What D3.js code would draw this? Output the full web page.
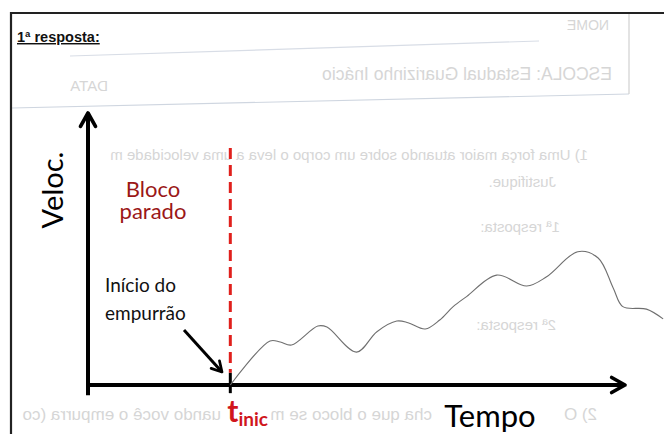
<!DOCTYPE html>
<html lang="pt">
  <head>
    <meta charset="UTF-8" />
    <title>Veloc. x Tempo</title>
    <script src="https://d3js.org/d3.v7.min.js"></script>
    <style>
      body { margin: 0; background: #fff; }
      svg { display: block; }
      .lbl { font-family: Lato, "Open Sans", sans-serif; }
      .ghost { font-family: "Liberation Sans", Arial, sans-serif; fill: #d6d6d6; }
    </style>
  </head>
  <body>
    <svg width="664" height="434"></svg>
    <script>
      // time (arbitrary units) and velocity (arbitrary units)
      const tInic = 26.5;
      const tempo = [26.5, 33.9, 35.8, 37.9, 42.8, 44.5, 50.0, 53.8, 57.5, 59.6, 62.8, 65.5,
                     68.0, 70.5, 76.1, 81.7, 85.4, 91.2, 95.0, 97.8, 99.6, 104.0, 107.1];
      const veloc = [0, 16.2, 15.8, 14.7, 21.7, 21.3, 12.1, 19.6, 23.5, 22.9, 20.6, 23.9,
                     28.8, 32.5, 40.4, 36.4, 39.8, 49.0, 46.7, 35.7, 28.8, 27.9, 24.3];
      const labelsBloco = ["Bloco", "parado"];
      const labelsInicio = ["Início do", "empurrão"];

      const svg = d3.select("svg");

      const x = d3.scaleLinear().domain([0, 100]).range([88, 625]);
      const y = d3.scaleLinear().domain([0, 100]).range([385, 113]);

      // scan bleed-through from the back of the page (mirrored, faint)
      const ghost = svg.append("g");
      const ghostTexts = [
        { s: "NOME", x: 609, y: 30, f: 14 },
        { s: "ESCOLA: Estadual Guarizinho Inácio", x: 612, y: 80, f: 17.5 },
        { s: "DATA", x: 108, y: 91, f: 15 },
        { s: "1) Uma força maior atuando sobre um corpo o leva a uma velocidade m", x: 588, y: 160, f: 15 },
        { s: "Justifique.", x: 556, y: 187, f: 15 },
        { s: "1ª resposta:", x: 560, y: 232, f: 15 },
        { s: "2ª resposta:", x: 556, y: 330, f: 15 },
        // the last line is hidden behind the white boxes of "Tempo" and "t inic"
        { s: "2) O", x: 597, y: 420, f: 17 },
        { s: "cha que o bloco se m", x: 432, y: 420, f: 17 },
        { s: "uando você o empurra (co", x: 221, y: 420, f: 17 }
      ];
      ghost.selectAll("text")
        .data(ghostTexts)
        .enter()
        .append("text")
        .attr("class", "ghost")
        .attr("transform", (d) => `translate(${d.x},${d.y}) scale(-1,1)`)
        .attr("font-size", (d) => d.f)
        .text((d) => d.s);
      ghost.append("line").attr("x1", 70).attr("y1", 56).attr("x2", 539).attr("y2", 41)
        .attr("stroke", "#d8dde6").attr("stroke-width", 1.2);
      ghost.append("line").attr("x1", 12).attr("y1", 108).attr("x2", 629).attr("y2", 94)
        .attr("stroke", "#cfd6e0").attr("stroke-width", 1.2);
      ghost.append("line").attr("x1", 629).attr("y1", 14).attr("x2", 629).attr("y2", 94)
        .attr("stroke", "#d0d0d0").attr("stroke-width", 1.2);

      // page frame
      svg.append("path")
        .attr("d", "M11,434 L11,13 L664,13")
        .attr("fill", "none")
        .attr("stroke", "#222")
        .attr("stroke-width", 2.2);

      svg.append("text")
        .attr("x", 17)
        .attr("y", 42)
        .attr("font-family", "'Liberation Sans', Arial, sans-serif")
        .attr("font-weight", "bold")
        .attr("font-size", 14.5)
        .attr("text-decoration", "underline")
        .attr("fill", "#111")
        .text("1ª resposta:");

      // arrow markers
      const defs = svg.append("defs");
      defs.append("marker")
        .attr("id", "arr")
        .attr("viewBox", "0 0 12 12")
        .attr("refX", 10)
        .attr("refY", 6)
        .attr("markerWidth", 5)
        .attr("markerHeight", 5)
        .attr("markerUnits", "strokeWidth")
        .attr("orient", "auto")
        .append("path")
        .attr("d", "M2,1.5 L10,6 L2,10.5")
        .attr("fill", "none")
        .attr("stroke", "#000")
        .attr("stroke-width", 2.2)
        .attr("stroke-linecap", "round")
        .attr("stroke-linejoin", "round");

      // axes
      svg.append("line")
        .attr("x1", x(0)).attr("y1", y(-3.8))
        .attr("x2", x(0)).attr("y2", y(100))
        .attr("stroke", "#000").attr("stroke-width", 4)
        .attr("marker-end", "url(#arr)");
      svg.append("line")
        .attr("x1", x(0)).attr("y1", y(0))
        .attr("x2", x(100)).attr("y2", y(0))
        .attr("stroke", "#000").attr("stroke-width", 4)
        .attr("marker-end", "url(#arr)");

      // tick at t_inic
      svg.append("line")
        .attr("x1", x(tInic)).attr("y1", y(4.5))
        .attr("x2", x(tInic)).attr("y2", y(-3))
        .attr("stroke", "#000").attr("stroke-width", 3);

      // dashed red line at t_inic
      svg.append("line")
        .attr("x1", x(tInic)).attr("y1", 148)
        .attr("x2", x(tInic)).attr("y2", y(4.5))
        .attr("stroke", "#e0201c")
        .attr("stroke-width", 3)
        .attr("stroke-dasharray", "11,6");

      // velocity curve
      const pts = tempo.map((t, i) => [t, veloc[i]]);
      svg.append("path")
        .datum(pts)
        .attr("fill", "none")
        .attr("stroke", "#6f6f6f")
        .attr("stroke-width", 1.1)
        .attr("d", d3.line().x((d) => x(d[0])).y((d) => y(d[1])).curve(d3.curveCatmullRom.alpha(0.5)));

      // axis titles
      svg.append("text")
        .attr("class", "lbl")
        .attr("transform", `translate(63,190) rotate(-90)`)
        .attr("text-anchor", "middle")
        .attr("font-size", 29)
        .attr("fill", "#000")
        .text("Veloc.");

      svg.append("text")
        .attr("class", "lbl")
        .attr("x", 490)
        .attr("y", 427)
        .attr("text-anchor", "middle")
        .attr("font-size", 31)
        .attr("fill", "#000")
        .text("Tempo");

      // t_inic label
      const tl = svg.append("text")
        .attr("class", "lbl")
        .attr("x", x(tInic) - 3)
        .attr("y", 422)
        .attr("font-weight", "bold")
        .attr("fill", "#d0161c");
      tl.append("tspan").attr("font-size", 30).text("t");
      tl.append("tspan").attr("font-size", 19).attr("dy", 4).text("inic");

      // annotations
      svg.append("text")
        .attr("class", "lbl")
        .attr("x", 153)
        .attr("y", 197)
        .attr("text-anchor", "middle")
        .attr("font-size", 22)
        .attr("fill", "#9b1717")
        .selectAll("tspan")
        .data(labelsBloco)
        .enter()
        .append("tspan")
        .attr("x", 153)
        .attr("dy", (d, i) => (i === 0 ? 0 : 22))
        .text((d) => d);

      svg.append("text")
        .attr("class", "lbl")
        .attr("x", 105)
        .attr("y", 292)
        .attr("font-size", 19)
        .attr("fill", "#111")
        .selectAll("tspan")
        .data(labelsInicio)
        .enter()
        .append("tspan")
        .attr("x", 105)
        .attr("dy", (d, i) => (i === 0 ? 0 : 28))
        .text((d) => d);

      svg.append("line")
        .attr("x1", 184).attr("y1", 330)
        .attr("x2", 222).attr("y2", 372)
        .attr("stroke", "#000").attr("stroke-width", 3)
        .attr("marker-end", "url(#arr)");
    </script>
  </body>
</html>
